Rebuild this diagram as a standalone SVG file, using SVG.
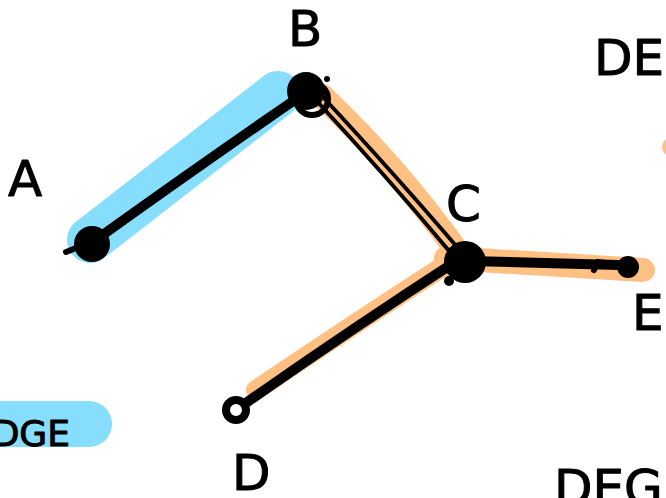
<svg xmlns="http://www.w3.org/2000/svg" width="666" height="498" viewBox="0 0 666 498">
<style>
.lbl{font-family:"DejaVu Sans","Liberation Sans",sans-serif;font-size:50px;fill:#000;stroke:#000;stroke-width:1;stroke-linejoin:round}
.hl-blue{stroke:#87DEFC;fill:none;stroke-linecap:round;stroke-linejoin:round}
.hl-orange{stroke:#FFC083;fill:none;stroke-linecap:round;stroke-linejoin:round}
.ink{stroke:#000;fill:none;stroke-linecap:round;stroke-linejoin:round}
</style>
<rect width="666" height="498" fill="#fff"/>
<g id="connectors">
  <path class="hl-blue" d="M90 240 Q180 170 278 94" stroke-width="46"/>
  <path class="hl-orange" d="M322 96 Q400 170 462 258" stroke-width="24"/>
  <path class="hl-orange" d="M446 258 L643 270" stroke-width="24"/>
  <path class="hl-orange" d="M456 258 Q360 320 256 390" stroke-width="20"/>
  <path class="ink" d="M90 244 Q200 165 302 95" stroke-width="10"/>
  <path class="ink" d="M314 98 Q390 180 455 258" stroke-width="4"/>
  <path class="ink" d="M322 96 Q400 180 463 254" stroke-width="4"/>
  <path class="ink" d="M468 261 L618 265" stroke-width="10"/>
  <path class="ink" d="M598 262 L612 264 M598 262 L594 270" stroke-width="6"/>
  <path class="ink" d="M458 260 Q350 330 243 405" stroke-width="10"/>
</g>
<g id="node-A">
  <circle cx="92" cy="244" r="18" fill="#000"/>
  <path class="ink" d="M66 252 L76 248" stroke-width="6"/>
  <text class="lbl" x="8" y="196">A</text>
</g>
<g id="node-B">
  <circle cx="306" cy="91" r="19" fill="#000"/>
  <circle cx="312" cy="99" r="16" fill="none" stroke="#000" stroke-width="6"/>
  <circle cx="327" cy="79" r="3" fill="#000"/>
  <text class="lbl" x="288" y="46">B</text>
</g>
<g id="node-C">
  <circle cx="465" cy="262" r="21" fill="#000"/>
  <circle cx="449" cy="281" r="5" fill="#000"/>
  <text class="lbl" x="446" y="221">C</text>
</g>
<g id="node-D">
  <circle cx="236" cy="410" r="10" fill="#fff" stroke="#000" stroke-width="8"/>
  <text class="lbl" x="232" y="490">D</text>
</g>
<g id="node-E">
  <circle cx="628" cy="267" r="8" fill="#000" stroke="#000" stroke-width="6"/>
  <text class="lbl" x="632" y="330">E</text>
</g>
<g id="legend">
  <ellipse cx="692" cy="147" rx="30" ry="16" fill="#FFC083"/>
  <text class="lbl" x="594" y="75">DE</text>
  <text class="lbl" x="554" y="505">DEG</text>
  <rect x="-40" y="401" width="152" height="46" rx="23" fill="#87DEFC"/>
  <text class="lbl" style="font-size:36px" x="70" y="446" text-anchor="end">DGE</text>
</g>
</svg>
